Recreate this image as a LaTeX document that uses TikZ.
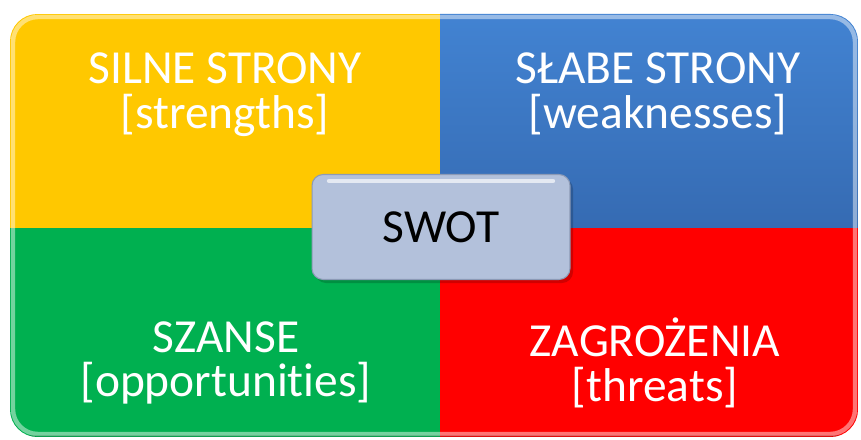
\documentclass[tikz,border=0pt]{standalone}
\usepackage{fontspec}
\setmainfont{Carlito}[Ligatures={NoCommon}]
\usetikzlibrary{positioning}
\definecolor{SwotYellow}{HTML}{FFC800}
\definecolor{SwotBlue}{HTML}{3A74C2}
\definecolor{SwotBlueTop}{HTML}{4283D2}
\definecolor{SwotGreen}{HTML}{00B050}
\definecolor{SwotRed}{HTML}{FF0000}
\definecolor{SwotCenter}{HTML}{B3C1DB}
\definecolor{SwotEdge}{HTML}{8C9AB6}
\colorlet{BevelLight}{white}

\begin{document}
\begin{tikzpicture}[x=0.02cm, y=-0.02cm,
    quadlabel/.style={text=white, align=center, font=\fontsize{27}{25.5}\selectfont},
    centerbox/.style={fill=SwotCenter, draw=SwotEdge, line width=0.6pt, rounded corners=0.22cm,
      minimum width=5.16cm, minimum height=2.1cm, font=\fontsize{27}{28}\selectfont}]

    \useasboundingbox (0,0) rectangle (861,439);

    % Quadrants
    \begin{scope}
        \clip[rounded corners=0.55cm] (10,14) rectangle (858,437);
        \fill[SwotYellow] (10,14) rectangle (440,228);
        \shade[top color=SwotBlueTop, bottom color=SwotBlue!92!black] (440,14) rectangle (858,228);
        \fill[SwotGreen] (10,228) rectangle (440,437);
        \fill[SwotRed] (440,228) rectangle (858,437);
        % bevel
        \draw[BevelLight, opacity=0.45, line width=2.5pt, rounded corners=0.5cm] (13,17) rectangle (855,434);
        \draw[black, opacity=0.12, line width=1.5pt] (10,436) -- (858,436);
    \end{scope}

    % Labels
    \node[quadlabel] (strengths) at (225,95) {SILNE STRONY\\{}[strengths]};
    \node[quadlabel] (weaknesses) at (658,94) {SŁABE STRONY\\{}[weaknesses]};
    \node[quadlabel] (opportunities) at (226,363) {SZANSE\\{}[opportunities]};
    \node[quadlabel] (threats) at (655,363) {ZAGROŻENIA\\{}[threats]};

    % Center
    \fill[black, opacity=0.18, rounded corners=0.22cm] (315,178) rectangle (573,283);
    \node[centerbox] (swot) at (441,227) {SWOT};
    \draw[BevelLight, opacity=0.65, line width=2.5pt, line cap=round] ([xshift=0.35cm, yshift=-0.14cm]swot.north west) -- ([xshift=-0.35cm, yshift=-0.14cm]swot.north east);

\end{tikzpicture}
\end{document}
